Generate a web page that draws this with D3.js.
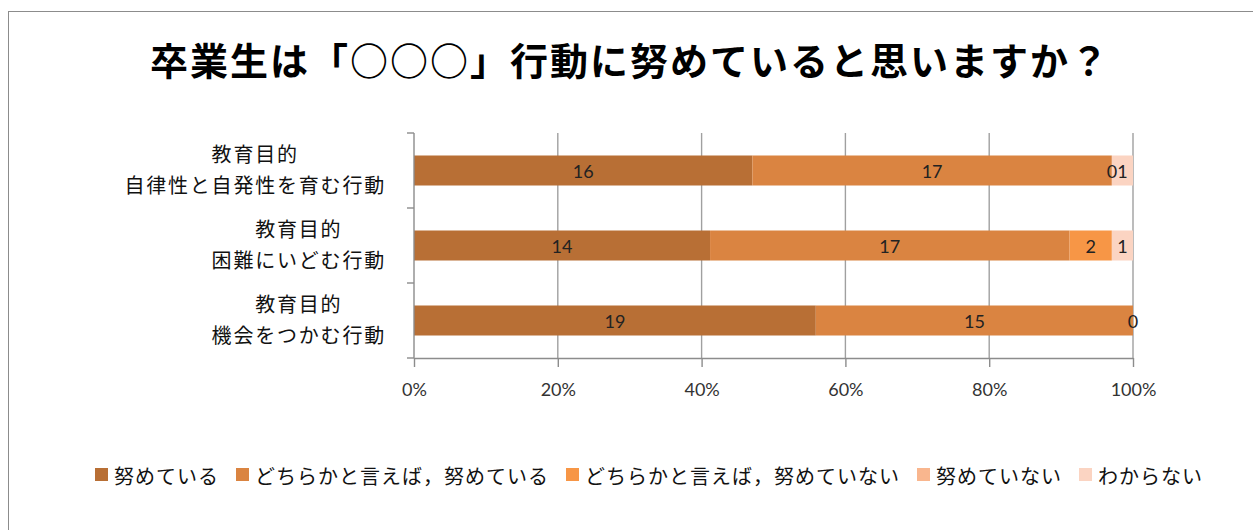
<!DOCTYPE html>
<html><head><meta charset="utf-8">
<script src="https://cdn.jsdelivr.net/npm/d3@7"></script>
<style>body{margin:0;background:#fff}svg{display:block}</style>
</head><body><svg id="c" width="1253" height="530"></svg>
<script>
const title = "卒業生は「○○○」行動に努めていると思いますか？";
const categories = ["教育目的\n自律性と自発性を育む行動", "教育目的\n困難にいどむ行動", "教育目的\n機会をつかむ行動"];
const seriesNames = ["努めている", "どちらかと言えば，努めている", "どちらかと言えば，努めていない", "努めていない", "わからない"];
const seriesColors = ["#B86F35", "#DA8441", "#F79646", "#F9B68E", "#FBD4C2"];
const tsutometeiru = [16, 14, 19];
const dochiraTsutomeru = [17, 17, 15];
const dochiraTsutomenai = [0, 2, null];
const tsutometeinai = [null, null, null];
const wakaranai = [1, 1, 0];
const seriesValues = [tsutometeiru, dochiraTsutomeru, dochiraTsutomenai, tsutometeinai, wakaranai];
const tickValues = [0, 0.2, 0.4, 0.6, 0.8, 1];

const svg = d3.select("#c");
const cjk = "'Noto Sans CJK JP', 'Noto Sans CJK SC', sans-serif";
const num = "Lato, 'Open Sans', sans-serif";

svg.append("rect").attr("x", 8.5).attr("y", 11.5).attr("width", 1300).attr("height", 600)
  .attr("fill", "#fff").attr("stroke", "#8c8c8c");

// Title
svg.append("text").attr("x", 630).attr("y", 58).attr("text-anchor", "middle")
  .attr("dominant-baseline", "central").attr("font-family", cjk).attr("font-weight", "bold")
  .attr("font-size", 38).attr("letter-spacing", 2).attr("fill", "#000").text(title);

const rows = categories.map((c, i) => {
  const r = { cat: c };
  seriesNames.forEach((n, j) => r[n] = seriesValues[j][i] ?? 0);
  return r;
});
const stacked = d3.stack().keys(seriesNames).offset(d3.stackOffsetExpand)(rows);

const x = d3.scaleLinear().domain([0, 1]).range([414, 1133]);
const y = d3.scaleBand().domain(categories).range([133, 358]).paddingInner(0.6).paddingOuter(0.3);
const [y0, y1] = y.range();

// Gridlines
svg.append("g").selectAll("line").data(tickValues.filter(d => d > 0)).join("line")
  .attr("x1", d => x(d)).attr("x2", d => x(d)).attr("y1", y0).attr("y2", y1)
  .attr("stroke", "#a0a0a0").attr("stroke-width", 1.4);

// Bars
const g = svg.append("g");
stacked.forEach((s, j) => {
  g.selectAll(null).data(s).join("rect")
    .attr("x", d => x(d[0])).attr("width", d => x(d[1]) - x(d[0]))
    .attr("y", d => y(d.data.cat)).attr("height", y.bandwidth())
    .attr("fill", seriesColors[j]);
});

// Value axis
const xAxis = svg.append("g").attr("transform", `translate(0,${y1})`)
  .call(d3.axisBottom(x).tickValues(tickValues).tickFormat(d3.format(".0%")).tickSize(9).tickSizeOuter(0).tickPadding(16));
xAxis.select(".domain").attr("stroke", "#8c8c8c").attr("stroke-width", 1.4);
xAxis.selectAll(".tick line").attr("stroke", "#8c8c8c").attr("stroke-width", 1.4);
xAxis.selectAll(".tick text").attr("font-family", num).attr("font-size", 18).attr("fill", "#333");

// Category axis
svg.append("line").attr("x1", x(0)).attr("x2", x(0)).attr("y1", y0).attr("y2", y1)
  .attr("stroke", "#8c8c8c").attr("stroke-width", 1.4);
svg.append("g").selectAll("line").data(d3.range(categories.length + 1)).join("line")
  .attr("x1", x(0) - 7).attr("x2", x(0)).attr("y1", i => y0 + i * y.step()).attr("y2", i => y0 + i * y.step())
  .attr("stroke", "#8c8c8c").attr("stroke-width", 1.4);

// Category labels (multi-line, centered block, right edge near axis)
const lineH = 31;
categories.forEach(c => {
  const lines = c.split("\n");
  const t = svg.append("text").attr("font-family", cjk).attr("font-size", 20)
    .attr("letter-spacing", 1.8).attr("fill", "#111").attr("text-anchor", "middle");
  const cy = y(c) + y.bandwidth() / 2 - 2;
  const spans = lines.map((l, i) => t.append("tspan")
    .attr("y", cy + (i - (lines.length - 1) / 2) * lineH)
    .attr("dominant-baseline", "central").text(l));
  const maxW = d3.max(spans, s => s.node().getComputedTextLength());
  const cx = x(0) - 28 - maxW / 2;
  spans.forEach(s => s.attr("x", cx));
});

// Data labels
stacked.forEach((s, j) => {
  g.selectAll(null).data(s.filter((d, i) => seriesValues[j][i] !== null)).join("text")
    .attr("x", d => (x(d[0]) + x(d[1])) / 2)
    .attr("y", d => y(d.data.cat) + y.bandwidth() / 2)
    .attr("text-anchor", "middle").attr("dominant-baseline", "central")
    .attr("font-family", num).attr("font-size", 18).attr("fill", "#222")
    .text(d => d.data[seriesNames[j]]);
});

// Legend
const leg = svg.append("g");
let lx = 95;
const ly = 475;
seriesNames.forEach((n, j) => {
  leg.append("rect").attr("x", lx).attr("y", ly - 7).attr("width", 13).attr("height", 13).attr("fill", seriesColors[j]);
  const t = leg.append("text").attr("x", lx + 19).attr("y", ly).attr("dominant-baseline", "central")
    .attr("font-family", cjk).attr("font-size", 20).attr("letter-spacing", 1).attr("fill", "#111").text(n);
  lx += 19 + t.node().getComputedTextLength() + 17;
});
</script></body></html>
